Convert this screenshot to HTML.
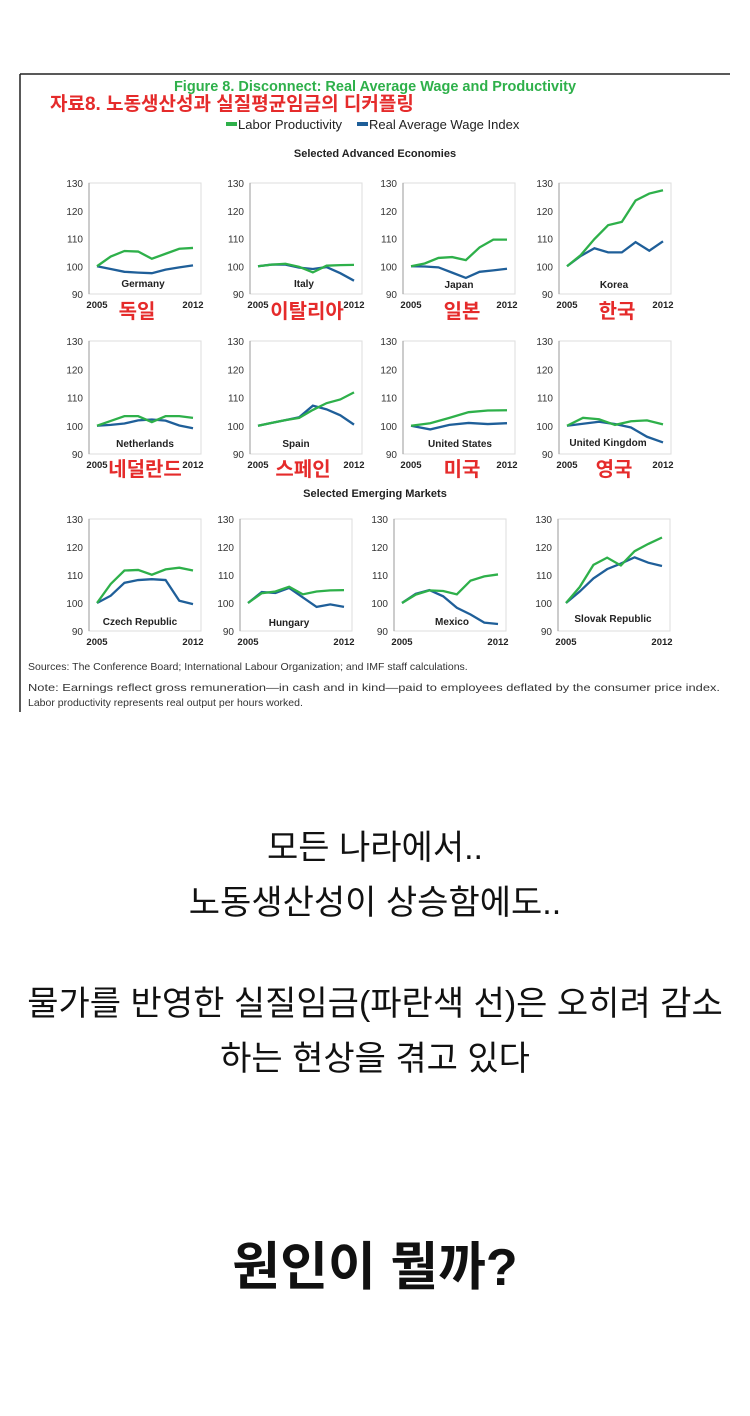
<!DOCTYPE html>
<html><head><meta charset="utf-8"><style>
body{margin:0;background:#fff;width:750px;height:1416px;position:relative;overflow:hidden;font-family:"Liberation Sans","Noto Sans CJK KR",sans-serif}
.t{position:absolute;left:0;width:750px;text-align:center;color:#111;white-space:nowrap}
</style></head><body>
<svg id="s" width="750" height="720" style="position:absolute;left:0;top:0" font-family="Liberation Sans, Noto Sans CJK KR, sans-serif">
<line x1="20" y1="74" x2="730" y2="74" stroke="#222" stroke-width="1.5"/>
<line x1="20" y1="74" x2="20" y2="712" stroke="#222" stroke-width="1.5"/>
<text x="375" y="91" text-anchor="middle" fill="#2eb04a" font-size="14.5" font-weight="bold">Figure 8. Disconnect: Real Average Wage and Productivity</text>
<text x="50" y="110" fill="#e52b2b" font-size="19" font-weight="bold">자료8. 노동생산성과 실질평균임금의 디커플링</text>
<rect x="226" y="122" width="11" height="4" fill="#2eb04a"/><text x="238" y="129" font-size="13" fill="#222">Labor Productivity</text>
<rect x="357" y="122" width="11" height="4" fill="#1f5f99"/><text x="369" y="129" font-size="13" fill="#222">Real Average Wage Index</text>
<text x="375" y="157" text-anchor="middle" font-size="11" font-weight="bold" fill="#222">Selected Advanced Economies</text>
<text x="375" y="497" text-anchor="middle" font-size="11" font-weight="bold" fill="#222">Selected Emerging Markets</text>
<g id="g"></g>
<g font-size="20" font-weight="bold" fill="#e52b2b" text-anchor="middle">
<text x="137" y="318">독일</text><text x="307" y="318">이탈리아</text><text x="462" y="318">일본</text><text x="617" y="318">한국</text>
<text x="145" y="476">네덜란드</text><text x="303" y="476">스페인</text><text x="462" y="476">미국</text><text x="614" y="476">영국</text>
</g>
<g font-size="10" font-weight="bold" fill="#222" text-anchor="middle">
<text x="143" y="287">Germany</text><text x="304" y="287">Italy</text><text x="459" y="288">Japan</text><text x="614" y="288">Korea</text>
<text x="145" y="447">Netherlands</text><text x="296" y="447">Spain</text><text x="460" y="447">United States</text><text x="608" y="446">United Kingdom</text>
<text x="140" y="625">Czech Republic</text><text x="289" y="626">Hungary</text><text x="452" y="625">Mexico</text><text x="613" y="622">Slovak Republic</text>
</g>
<g font-size="10.5" fill="#333">
<text x="28" y="670">Sources: The Conference Board; International Labour Organization; and IMF staff calculations.</text>
<text x="28" y="691" textLength="692" lengthAdjust="spacingAndGlyphs" font-size="10.5">Note: Earnings reflect gross remuneration—in cash and in kind—paid to employees deflated by the consumer price index.</text>
<text x="28" y="706">Labor productivity represents real output per hours worked.</text>
</g>
</svg>
<div class="t" style="top:820px;font-size:34px">모든 나라에서..</div>
<div class="t" style="top:875px;font-size:34px">노동생산성이 상승함에도..</div>
<div class="t" style="top:976px;font-size:34px">물가를 반영한 실질임금(파란색 선)은 오히려 감소</div>
<div class="t" style="top:1031px;font-size:34px">하는 현상을 겪고 있다</div>
<div class="t" style="top:1225px;font-size:52px;font-weight:bold">원인이 뭘까?</div>
<script>
var NS="http://www.w3.org/2000/svg",G=document.getElementById('g');
function el(n,a){var e=document.createElementNS(NS,n);for(var k in a)e.setAttribute(k,a[k]);G.appendChild(e);return e;}
function ch(ax,t,b,g,w,labels){
 el('rect',{x:ax,y:t,width:112,height:b-t,fill:'#fff',stroke:'#ddd'});
 el('line',{x1:ax,y1:t,x2:ax,y2:b,stroke:'#999'});
 if(labels){[130,120,110,100,90].forEach(function(v){var y=t+(130-v)/40*(b-t);var e=el('text',{x:ax-6,y:y+4,'font-size':10,fill:'#333','text-anchor':'end'});e.textContent=v;});
 var e=el('text',{x:ax+8,y:b+14,'font-size':9.5,'font-weight':'bold',fill:'#222','text-anchor':'middle'});e.textContent='2005';
 e=el('text',{x:ax+104,y:b+14,'font-size':9.5,'font-weight':'bold',fill:'#222','text-anchor':'middle'});e.textContent='2012';}
 function pl(d,c,s){var p=d.map(function(v,i){return (ax+8+i*(96/(d.length-1))+(s||0))+','+(t+(130-v)/40*(b-t))}).join(' ');el('polyline',{points:p,fill:'none',stroke:c,'stroke-width':2.3});}
 pl(w,'#1f5f99');pl(g,'#2eb04a');
}
var r1=[183,294],r2=[341,454],r3=[519,631];
ch(89,r1[0],r1[1],[100,103.5,105.5,105.3,102.7,104.5,106.3,106.6],[100,99,98,97.7,97.5,98.8,99.6,100.3],1);
ch(250,r1[0],r1[1],[100,100.6,100.9,99.8,97.8,100.2,100.4,100.5],[100,100.6,100.6,99.5,99,99.7,97.5,94.8],1);
ch(403,r1[0],r1[1],[100,101,103,103.3,102.2,106.8,109.6,109.6],[100,99.9,99.6,97.7,95.8,98,98.5,99.1],1);
ch(559,r1[0],r1[1],[100,104,109.8,114.8,116,123.7,126.2,127.4],[100,103.7,106.5,105,105,108.7,105.6,109],1);
ch(89,r2[0],r2[1],[100,101.7,103.4,103.4,101.3,103.4,103.4,102.8],[100,100.3,100.8,101.9,102.2,101.8,100.1,99.1],1);
ch(250,r2[0],r2[1],[100,101,102,102.8,105.6,108,109.3,111.8],[100,101,102,103,107.1,105.8,103.7,100.4],1);
ch(403,r2[0],r2[1],[100,100.9,102.8,104.8,105.4,105.5],[100,98.7,100.3,101,100.6,100.9],1);
ch(559,r2[0],r2[1],[100,102.8,102.3,100.3,101.6,101.9,100.5],[100,100.7,101.4,100.6,99.4,96.1,94.1],1);
ch(89,r3[0],r3[1],[100,106.8,111.6,111.8,110.1,112,112.6,111.6],[100,102.6,107.2,108.2,108.5,108.2,100.8,99.6],1);
ch(240,r3[0],r3[1],[100,103.5,104.1,105.8,103.1,104.1,104.5,104.6],[100,103.9,103.6,105.4,102,98.6,99.5,98.6],1);
ch(394,r3[0],r3[1],[100,103,104.5,104.3,103.1,108,109.5,110.2],[100,103.3,104.6,102.4,98.3,95.9,93,92.5],1);
ch(558,r3[0],r3[1],[100,105.7,113.6,116.2,113.4,118.5,121.1,123.4],[100,104.1,108.8,112.1,114.1,116.3,114.4,113.2],1);
</script>
</body></html>
